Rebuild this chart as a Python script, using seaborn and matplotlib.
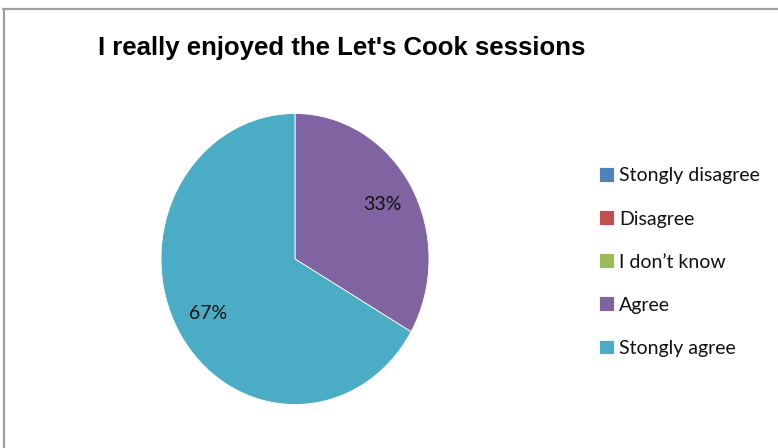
import matplotlib
matplotlib.use("Agg")
import matplotlib.pyplot as plt
from matplotlib.lines import Line2D
import numpy as np
import seaborn as sns

# Survey responses
categories = ["Stongly disagree", "Disagree", "I don\u2019t know", "Agree", "Stongly agree"]
counts = [0, 0, 0, 1, 2]
colors = ["#4F81BD", "#C0504D", "#9BBB59", "#8064A2", "#4BACC6"]
title = "I really enjoyed the Let's Cook sessions"

sns.set_theme(style="white")
plt.rcParams["font.family"] = ["Lato", "DejaVu Sans"]

W, H = 778, 448
fig = plt.figure(figsize=(W / 100, H / 100), dpi=100)
fig.patch.set_facecolor("white")

# chart frame: top and left edges
fig.add_artist(Line2D([3 / W, 1], [1 - 9.5 / H, 1 - 9.5 / H], color="#A0A0A0", lw=1.6,
                      transform=fig.transFigure))
fig.add_artist(Line2D([3.5 / W, 3.5 / W], [0, 1 - 9.5 / H], color="#A0A0A0", lw=1.6,
                      transform=fig.transFigure))

# pie area
cx, cy, rx, ry = 295, 259, 134, 145.5
ax = fig.add_axes([(cx - rx) / W, (H - cy - ry) / H, 2 * rx / W, 2 * ry / H])
total = sum(counts)
wedges, _ = ax.pie(counts, colors=colors, startangle=90, counterclock=False,
                   radius=1, wedgeprops=dict(linewidth=0.6, edgecolor="white"))
ax.set_aspect("auto")
ax.set_xlim(-1, 1)
ax.set_ylim(-1, 1)
ax.axis("off")

# percentage labels inside the non-empty wedges
for w, v in zip(wedges, counts):
    if v == 0:
        continue
    mid = np.deg2rad((w.theta1 + w.theta2) / 2)
    r = 0.75
    ax.text(r * np.cos(mid), r * np.sin(mid), f"{round(100 * v / total)}%",
            ha="center", va="center", fontsize=14, color="#111111")

fig.text(342 / W, 1 - 47.5 / H, title, ha="center", va="center",
         fontsize=18.5, fontweight="bold", family=["Liberation Sans", "DejaVu Sans"],
         color="black")

leg = fig.legend(wedges, categories, loc="upper left",
                 bbox_to_anchor=(591 / W, 1 - 159.5 / H), frameon=False,
                 fontsize=14, handlelength=0.8, handleheight=0.8,
                 handletextpad=0.25, labelspacing=1.33, borderaxespad=0)
for t in leg.get_texts():
    t.set_color("#111111")

fig.savefig("out.png", dpi=100, facecolor="white")
